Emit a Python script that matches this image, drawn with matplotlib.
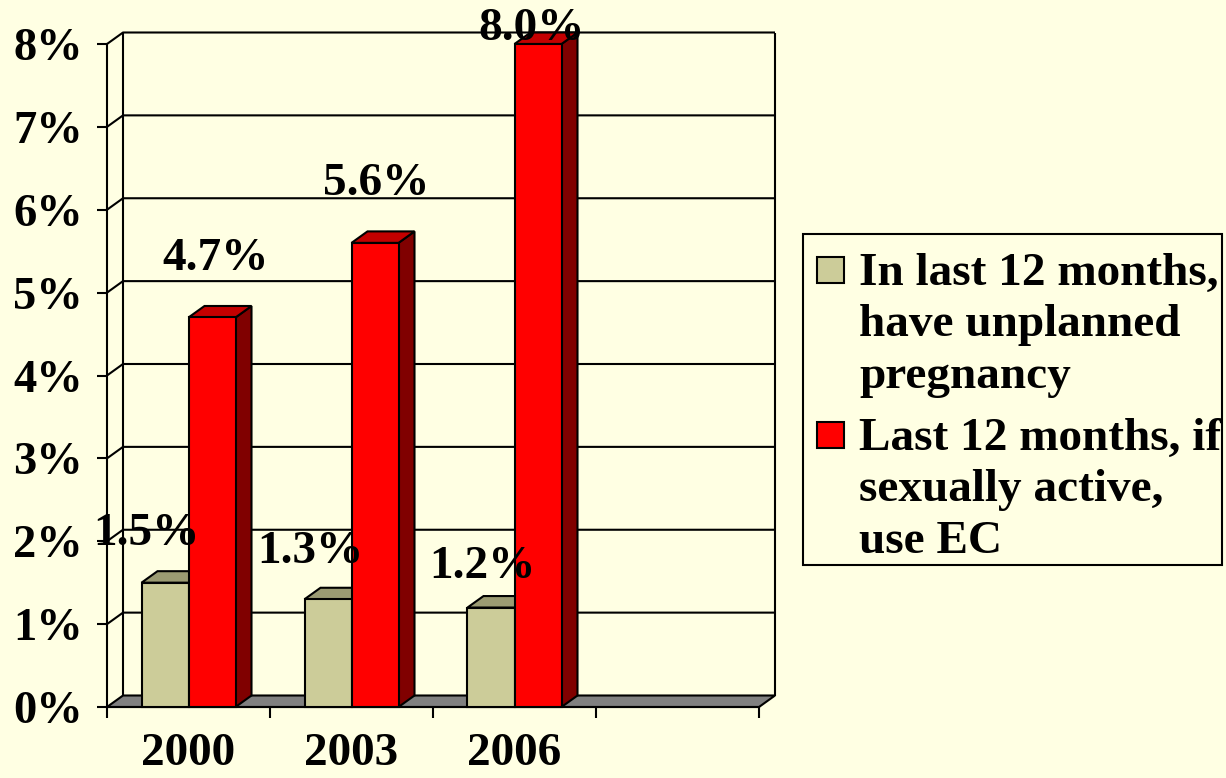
import matplotlib
matplotlib.use("Agg")
import matplotlib.pyplot as plt
from matplotlib.patches import Polygon, Rectangle

# ---------------- data ----------------
categories = ["2000", "2003", "2006", ""]
series_names = ["In last 12 months,\nhave unplanned\npregnancy",
                "Last 12 months, if\nsexually active,\nuse EC"]
unplanned = [1.5, 1.3, 1.2]
use_ec = [4.7, 5.6, 8.0]
value_labels_unplanned = ["1.5%", "1.3%", "1.2%"]
value_labels_ec = ["4.7%", "5.6%", "8.0%"]
ytick_values = [0, 1, 2, 3, 4, 5, 6, 7, 8]
ytick_labels = ["0%", "1%", "2%", "3%", "4%", "5%", "6%", "7%", "8%"]

# ---------------- style / layout ----------------
W, H = 1226, 778
BG = "#FFFFE3"
FONT = ["Liberation Serif", "DejaVu Serif"]
FS = 34
LW = 1.5
front_cols = ["#CCCC99", "#FF0000"]
top_cols = ["#9B9B72", "#C40000"]
side_cols = ["#8A8A60", "#800000"]

# label offsets (pixels) relative to bar front-top centre
off_unplanned = [(-19, 49), (-18, 47), (-9, 41)]
off_ec = [(4, 58), (1, 59), (-6, 15)]

fig = plt.figure(figsize=(W / 100, H / 100), dpi=100, facecolor=BG)
ax_l, ax_r, ax_t, ax_b = 107, 759, 44, 707
ax = fig.add_axes([ax_l / W, 1 - ax_b / H, (ax_r - ax_l) / W, (ax_b - ax_t) / H])
ax.patch.set_visible(False)

n_slots = len(categories)
ax.set_xlim(-0.5, n_slots - 0.5)
ax.set_ylim(0, 8)
ux = (ax_r - ax_l) / n_slots
uy = (ax_b - ax_t) / 8.0
DX = 16 / ux
DY = 11.5 / uy
x0, x1 = -0.5, n_slots - 0.5

# back wall and gridlines
kw = dict(color="black", lw=LW, clip_on=False, solid_capstyle="butt")
for y in ytick_values[1:]:
    ax.plot([x0, x0 + DX, x1 + DX], [y, y + DY, y + DY], **kw)
ax.plot([x0 + DX, x0 + DX], [DY, 8 + DY], **kw)
ax.plot([x1 + DX, x1 + DX], [DY, 8 + DY], **kw)

# floor
ax.add_patch(Polygon([(x0, 0), (x1, 0), (x1 + DX, DY), (x0 + DX, DY)],
                     closed=True, facecolor="#808080", edgecolor="black",
                     lw=LW, clip_on=False, zorder=1.5))

# bars
bw = 47 / ux
series = [unplanned, use_ec]
for i in range(len(unplanned)):
    for s, vals in enumerate(series):
        h = vals[i]
        xa = i - bw + s * bw
        xb = xa + bw
        pk = dict(edgecolor="black", lw=LW, clip_on=False, zorder=3,
                  joinstyle="miter")
        ax.add_patch(Polygon([(xb, 0), (xb + DX, DY), (xb + DX, h + DY), (xb, h)],
                             closed=True, facecolor=side_cols[s], **pk))
        ax.add_patch(Polygon([(xa, h), (xb, h), (xb + DX, h + DY), (xa + DX, h + DY)],
                             closed=True, facecolor=top_cols[s], **pk))
        ax.add_patch(Rectangle((xa, 0), bw, h, facecolor=front_cols[s], **pk))

# value labels
for s, (vals, labs, offs) in enumerate([(unplanned, value_labels_unplanned, off_unplanned),
                                        (use_ec, value_labels_ec, off_ec)]):
    for i, (v, lab) in enumerate(zip(vals, labs)):
        xc = i - bw / 2 + s * bw
        ax.annotate(lab, (xc, v), xytext=(offs[i][0] * 0.72, offs[i][1] * 0.72),
                    textcoords="offset points", ha="center", va="center",
                    fontsize=FS, fontweight="bold", family=FONT, zorder=5,
                    annotation_clip=False)

# axes spines and ticks
for sp in ["top", "right"]:
    ax.spines[sp].set_visible(False)
for sp in ["left", "bottom"]:
    ax.spines[sp].set_linewidth(LW)
    ax.spines[sp].set_zorder(2.5)

ax.set_yticks(ytick_values)
ax.set_yticklabels(ytick_labels, fontsize=FS - 0.5, fontweight="bold", family=FONT)
ax.tick_params(axis="y", length=7.2, width=LW, pad=10, direction="out")

ax.set_xticks([x0 + k for k in range(n_slots + 1)])
ax.set_xticklabels([])
ax.set_xticks(list(range(n_slots)), minor=True)
ax.set_xticklabels(categories, minor=True, fontsize=FS, fontweight="bold", family=FONT)
ax.tick_params(axis="x", which="major", length=8, width=LW, direction="out")
ax.tick_params(axis="x", which="minor", length=0, pad=18.5)

# legend (manual)
lx0, ly0, lx1, ly1 = 803, 234, 1222, 565
fig.patches.append(Rectangle((lx0 / W, 1 - ly1 / H), (lx1 - lx0) / W, (ly1 - ly0) / H,
                             transform=fig.transFigure, facecolor=BG,
                             edgecolor="black", lw=LW))
first_baselines = [285, 450]
line_step = 51.5
for s, name in enumerate(series_names):
    bl = first_baselines[s]
    fig.patches.append(Rectangle((817 / W, 1 - (bl - 2) / H), 27 / W, 26 / H,
                                 transform=fig.transFigure, facecolor=front_cols[s],
                                 edgecolor="black", lw=LW))
    for k, line in enumerate(name.split("\n")):
        fig.text(859 / W, 1 - (bl + k * line_step) / H, line, ha="left",
                 va="baseline", fontsize=FS, fontweight="bold", family=FONT)

fig.savefig("out.png", dpi=100, facecolor=BG)
